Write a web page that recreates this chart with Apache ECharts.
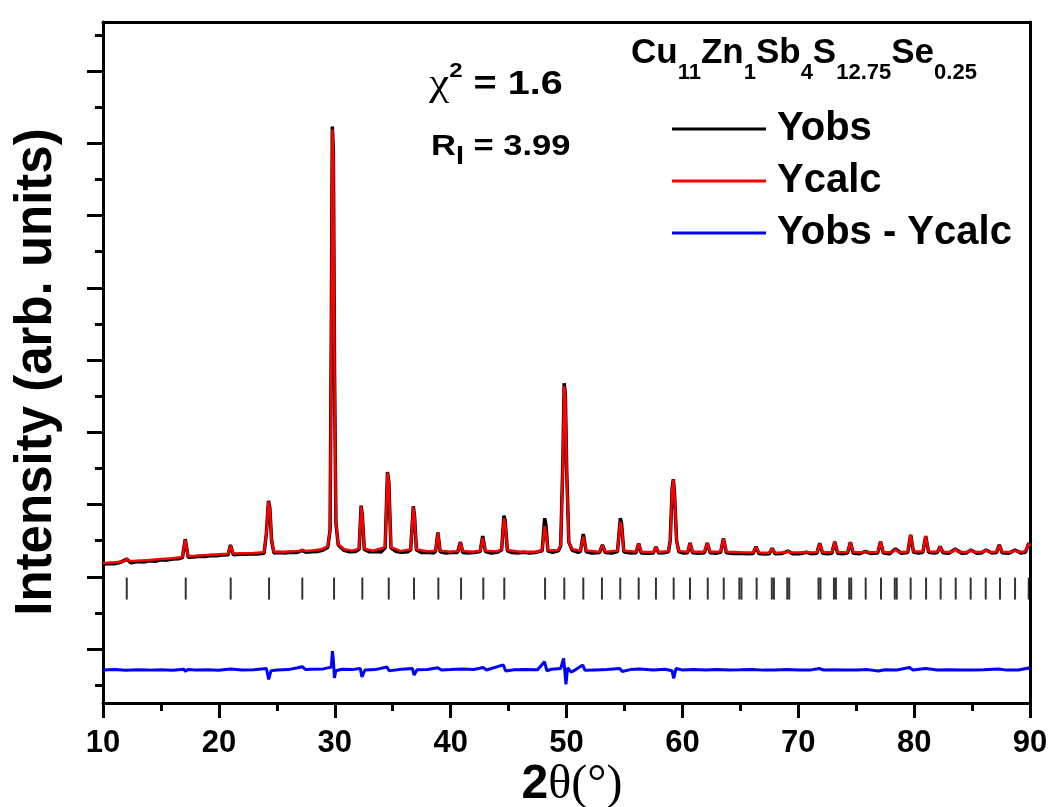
<!DOCTYPE html>
<html>
<head>
<meta charset="utf-8">
<script src="https://cdn.jsdelivr.net/npm/echarts@6/dist/echarts.min.js"></script>
<style>
  html, body { margin: 0; padding: 0; background: #fff; }
  #main { width: 1052px; height: 807px; }
</style>
</head>
<body>
<div id="main"></div>
<script>
// observed pattern [2theta, intensity]
const yobs = [
  [10.0,1175],[10.5,1185],[11.0,1180],[11.5,1200],[12.05,1245],[12.4,1195],[13,1210],[13.5,1205],[14,1220],[14.5,1215],
  [15,1235],[15.5,1230],[16,1245],[16.5,1250],[16.85,1265],[17.1,1520],[17.35,1270],[17.8,1275],[18.3,1285],[18.8,1280],
  [19.3,1295],[19.8,1290],[20.3,1300],[20.8,1305],[21.0,1440],[21.25,1305],[21.8,1312],[22.3,1310],[22.8,1320],[23.3,1315],
  [23.9,1325],[24.1,1600],[24.28,2050],[24.4,1950],[24.55,1500],[24.75,1330],[25.2,1335],[25.7,1330],[26.2,1340],[26.7,1335],
  [27.2,1365],[27.5,1340],[28,1345],[28.5,1350],[29.0,1370],[29.4,1410],[29.6,1650],[29.7,4300],[29.79,7230],[29.88,6900],
  [29.98,3850],[30.1,1750],[30.3,1440],[30.8,1365],[31.3,1345],[31.8,1350],[32.1,1380],[32.28,1985],[32.38,1850],[32.55,1380],
  [33,1345],[33.5,1350],[34.0,1342],[34.35,1400],[34.55,2450],[34.67,2300],[34.85,1400],[35.3,1350],[35.8,1340],[36.3,1345],
  [36.55,1370],[36.78,1975],[36.88,1850],[37.05,1370],[37.5,1335],[38,1340],[38.5,1330],[38.7,1350],[38.9,1612],[39.1,1345],
  [39.6,1330],[40.1,1335],[40.6,1335],[40.85,1480],[41.05,1335],[41.5,1330],[42.0,1335],[42.55,1350],[42.77,1565],[43.0,1350],
  [43.5,1330],[44.0,1338],[44.4,1370],[44.6,1845],[44.7,1780],[44.9,1360],[45.3,1335],[45.8,1330],[46.3,1338],[46.8,1328],
  [47.3,1335],[47.9,1360],[48.12,1810],[48.22,1720],[48.4,1355],[48.8,1340],[49.3,1360],[49.5,1430],[49.68,2550],[49.8,3678],
  [49.9,3520],[50.02,2450],[50.2,1480],[50.5,1365],[51.0,1338],[51.2,1350],[51.45,1592],[51.7,1345],[52.2,1330],[52.85,1335],
  [53.1,1440],[53.35,1335],[53.9,1328],[54.4,1350],[54.65,1810],[54.75,1740],[54.95,1345],[55.5,1330],[56.0,1332],[56.23,1462],
  [56.45,1330],[57.0,1325],[57.5,1330],[57.72,1412],[57.95,1328],[58.4,1332],[58.8,1345],[58.95,1500],[59.12,2220],[59.22,2350],
  [59.32,2160],[59.5,1500],[59.7,1345],[60.1,1330],[60.45,1332],[60.66,1468],[60.88,1332],[61.4,1325],[61.9,1332],[62.15,1468],
  [62.4,1332],[62.9,1325],[63.3,1338],[63.55,1530],[63.8,1332],[64.4,1322],[65,1325],[65.6,1318],[66.1,1322],[66.35,1416],
  [66.6,1322],[67.1,1315],[67.5,1320],[67.75,1395],[68.0,1318],[68.6,1322],[69.1,1356],[69.5,1320],[70.1,1318],[70.7,1340],
  [71.1,1320],[71.6,1325],[71.85,1465],[72.1,1325],[72.5,1318],[72.9,1325],[73.15,1486],[73.4,1325],[73.8,1320],[74.25,1328],
  [74.5,1478],[74.75,1325],[75.3,1320],[75.8,1350],[76.3,1322],[76.85,1328],[77.1,1486],[77.35,1328],[77.9,1320],[78.4,1385],
  [78.9,1325],[79.45,1335],[79.7,1580],[79.95,1338],[80.4,1330],[80.75,1340],[81.0,1565],[81.25,1340],[81.7,1330],[82.0,1335],
  [82.25,1418],[82.5,1332],[83.0,1325],[83.55,1385],[84.1,1325],[84.5,1330],[84.9,1370],[85.4,1325],[85.8,1330],[86.2,1370],
  [86.7,1328],[87.1,1335],[87.35,1440],[87.6,1332],[88.2,1325],[88.7,1370],[89.2,1330],[89.6,1340],[89.9,1465],[90,1430]
];

// calculated pattern
const ycalc = [
  [10.0,1186],[11.0,1200],[11.8,1212],[12.05,1250],[12.3,1215],[13,1222],[14,1232],[15,1245],[16,1258],[16.85,1275],
  [17.1,1510],[17.35,1285],[18,1290],[19,1300],[20,1310],[20.8,1318],[21.0,1430],[21.25,1322],[22,1326],[23,1330],
  [23.9,1340],[24.1,1600],[24.28,2040],[24.4,1940],[24.55,1500],[24.75,1345],[25.5,1348],[26.5,1352],[26.95,1355],[27.2,1372],
  [27.45,1358],[28,1362],[28.8,1380],[29.4,1420],[29.6,1650],[29.7,4200],[29.8,7190],[29.88,6800],[29.98,3800],[30.1,1750],
  [30.3,1450],[30.8,1380],[31.5,1362],[32.1,1390],[32.28,1975],[32.38,1840],[32.55,1390],[33.3,1360],[34.35,1410],[34.55,2440],
  [34.67,2290],[34.85,1410],[35.7,1355],[36.55,1380],[36.78,1965],[36.88,1840],[37.05,1380],[38.0,1350],[38.7,1360],[38.9,1605],
  [39.1,1360],[40.0,1345],[40.65,1355],[40.85,1475],[41.05,1355],[42.0,1345],[42.55,1360],[42.77,1535],[43.0,1360],[44.0,1350],
  [44.4,1380],[44.6,1810],[44.7,1750],[44.9,1370],[46,1345],[47.5,1345],[47.9,1370],[48.12,1700],[48.22,1620],[48.4,1365],
  [49.3,1370],[49.5,1440],[49.68,2500],[49.8,3640],[49.9,3490],[50.02,2400],[50.2,1480],[50.5,1380],[51.2,1360],[51.45,1555],
  [51.7,1360],[52.85,1345],[53.1,1435],[53.35,1345],[54.4,1360],[54.65,1760],[54.75,1700],[54.95,1360],[56.0,1345],[56.23,1458],
  [56.45,1345],[57.5,1342],[57.72,1410],[57.95,1342],[58.8,1355],[58.95,1500],[59.12,2200],[59.22,2345],[59.32,2150],[59.5,1500],
  [59.7,1355],[60.45,1345],[60.66,1465],[60.88,1345],[61.9,1345],[62.15,1465],[62.4,1345],[63.3,1350],[63.55,1525],[63.8,1345],
  [65,1338],[66.1,1335],[66.35,1412],[66.6,1335],[67.5,1333],[67.75,1390],[68.0,1332],[68.85,1335],[69.1,1352],[69.35,1335],
  [70.45,1335],[70.7,1345],[70.95,1335],[71.6,1338],[71.85,1460],[72.1,1340],[72.9,1340],[73.15,1482],[73.4,1340],[74.25,1340],
  [74.5,1475],[74.75,1340],[75.55,1338],[75.8,1352],[76.05,1338],[76.85,1340],[77.1,1482],[77.35,1340],[78.15,1340],[78.4,1380],
  [78.65,1340],[79.45,1345],[79.7,1575],[79.95,1350],[80.75,1350],[81.0,1560],[81.25,1350],[82.0,1345],[82.25,1415],[82.5,1345],
  [83.3,1342],[83.55,1385],[83.8,1342],[84.65,1342],[84.9,1370],[85.15,1342],[85.95,1342],[86.2,1370],[86.45,1342],[87.1,1345],
  [87.35,1435],[87.6,1345],[88.45,1342],[88.7,1368],[88.95,1342],[89.6,1350],[89.9,1460],[90,1420]
];

// difference curve (offset below)
const ydiff = [
  [10,-290],[11,-285],[12,-295],[13,-288],[14,-292],[15,-286],[16,-295],[17,-280],[17.1,-310],[17.3,-285],
  [18,-290],[19,-288],[20,-293],[21,-278],[21.1,-305],[22,-290],[23,-287],[24.1,-270],[24.3,-420],[24.5,-300],
  [25,-290],[26,-285],[26.8,-260],[27.2,-245],[27.5,-285],[28,-280],[29,-275],[29.7,-250],[29.8,-30],[29.88,-150],
  [29.97,-400],[30.1,-300],[30.6,-280],[31.5,-285],[32.2,-270],[32.35,-385],[32.6,-290],[33.5,-285],[34.5,-250],[34.7,-300],
  [35.5,-285],[36.7,-270],[36.85,-360],[37.1,-288],[38,-283],[38.9,-260],[39.2,-290],[40,-285],[41,-275],[42,-283],
  [42.8,-255],[43.1,-290],[44.55,-220],[44.75,-305],[45.5,-288],[46.5,-285],[47.5,-288],[48.1,-175],[48.3,-300],[48.7,-280],
  [49.5,-270],[49.75,-130],[49.85,-300],[49.95,-490],[50.1,-260],[50.4,-320],[50.8,-285],[51.4,-222],[51.6,-295],[52.5,-290],
  [53.5,-285],[54.6,-270],[54.8,-310],[55.5,-285],[56.3,-275],[57.5,-290],[58.5,-280],[59.1,-300],[59.25,-405],[59.45,-270],
  [60,-290],[61,-285],[62,-290],[63,-285],[64,-290],[65,-288],[66,-285],[67,-292],[68,-290],[69,-285],
  [70,-290],[71,-292],[71.8,-270],[72.2,-290],[73,-288],[74,-292],[75,-290],[76,-285],[76.9,-305],[77.5,-288],
  [78.5,-290],[79.6,-255],[79.9,-290],[81,-270],[82,-290],[83,-288],[84,-292],[85,-290],[86,-288],[87.3,-275],
  [88,-292],[89,-290],[89.9,-262],[90,-280]
];

// Bragg reflection positions
const braggPos = [
  12.05, 17.14, 21.02, 24.33, 27.2, 29.94, 32.38, 34.66, 36.84, 38.94, 40.9, 42.82, 44.63, 48.15, 49.81,
  51.45, 53.06, 54.64, 56.23, 57.72, 59.25, 60.66, 62.19, 63.57, 64.92, 65.1, 66.41, 67.72, 67.9, 69.05,
  69.22, 71.75, 71.92, 73.08, 73.25, 74.4, 74.57, 75.82, 77.14, 78.33, 78.5, 79.7, 81.03, 82.29, 83.59,
  84.88, 86.18, 87.41, 88.71, 89.89
];

const xTicks = [10, 20, 30, 40, 50, 60, 70, 80, 90];
const yMajor = [0, 1000, 2000, 3000, 4000, 5000, 6000, 7000, 8000];
const yMinor = [-500, 500, 1500, 2500, 3500, 4500, 5500, 6500, 7500, 8500];

const BRAGG_Y = 837;
const Y_MIN = -747, Y_MAX = 8678;
const FONT = 'Liberation Sans, Arial, sans-serif';
const SERIF = 'Liberation Serif, Times New Roman, serif';

const myChart = echarts.init(document.getElementById('main'));

const frameLine = { show: true, onZero: false, lineStyle: { color: '#000', width: 3 } };

const option = {
  animation: false,
  backgroundColor: '#fff',
  grid: { left: 103, right: 22, top: 22, bottom: 104, outerBoundsMode: 'none' },
  legend: {
    data: ['Yobs', 'Ycalc', 'Yobs - Ycalc'],
    orient: 'vertical',
    left: 672,
    top: 109,
    padding: 0,
    icon: 'rect',
    itemWidth: 94,
    itemHeight: 3,
    itemGap: 12,
    textStyle: {
      fontFamily: FONT, fontWeight: 'bold', fontSize: 40, color: '#000',
      lineHeight: 40, padding: [0, 0, 0, 6]
    }
  },
  xAxis: [
    {
      type: 'value', min: 10, max: 90, interval: 10, position: 'bottom',
      axisLine: frameLine,
      axisTick: { show: true, inside: false, length: 15, lineStyle: { color: '#000', width: 3 } },
      minorTick: { show: true, splitNumber: 2, length: 8, lineStyle: { color: '#000', width: 3 } },
      axisLabel: {
        color: '#000', fontFamily: FONT, fontWeight: 'bold', fontSize: 31, margin: 25,
        customValues: xTicks
      },
      splitLine: { show: false }
    },
    {
      type: 'value', min: 10, max: 90, position: 'top',
      axisLine: frameLine, axisTick: { show: false }, axisLabel: { show: false }, splitLine: { show: false }
    }
  ],
  yAxis: [
    {
      type: 'value', min: Y_MIN, max: Y_MAX, position: 'left',
      axisLine: frameLine,
      axisTick: { show: true, inside: false, length: 16, customValues: yMajor, lineStyle: { color: '#000', width: 3 } },
      axisLabel: { show: false },
      splitLine: { show: false }
    },
    {
      type: 'value', min: Y_MIN, max: Y_MAX, position: 'left', offset: 0,
      axisLine: { show: false, onZero: false },
      axisTick: { show: true, inside: false, length: 8, customValues: yMinor, lineStyle: { color: '#000', width: 3 } },
      axisLabel: { show: false },
      splitLine: { show: false }
    },
    {
      type: 'value', min: Y_MIN, max: Y_MAX, position: 'right',
      axisLine: frameLine, axisTick: { show: false }, axisLabel: { show: false }, splitLine: { show: false }
    }
  ],
  series: [
    {
      name: 'Yobs', type: 'line', data: yobs, showSymbol: false, symbol: 'none',
      color: '#000', lineStyle: { color: '#000', width: 3.5 }, z: 2
    },
    {
      name: 'Ycalc', type: 'line', data: ycalc, showSymbol: false, symbol: 'none',
      color: '#ff0000', lineStyle: { color: '#ff0000', width: 2.5 }, z: 3
    },
    {
      name: 'Yobs - Ycalc', type: 'line', data: ydiff, showSymbol: false, symbol: 'none',
      color: '#0000ff', lineStyle: { color: '#0000ff', width: 3 }, z: 3
    },
    {
      name: 'Bragg', type: 'scatter',
      data: braggPos.map(p => [p, BRAGG_Y]),
      symbol: 'rect', symbolSize: [2, 22],
      itemStyle: { color: '#000' }, z: 4
    }
  ],
  graphic: [
    {
      type: 'text', x: 37, y: 372, rotation: Math.PI / 2,
      style: {
        text: 'Intensity (arb. units)', fontFamily: FONT, fontWeight: 'bold', fontSize: 51,
        fill: '#000', align: 'center', verticalAlign: 'middle'
      }
    },
    {
      type: 'text', x: 572, y: 785,
      style: {
        text: '{b|2}{t|θ(°)}', align: 'center', verticalAlign: 'middle',
        rich: {
          b: { fontFamily: FONT, fontWeight: 'bold', fontSize: 48, fill: '#000' },
          t: { fontFamily: SERIF, fontSize: 48, fill: '#000' }
        }
      }
    },
    {
      type: 'text', x: 631, y: 22,
      style: {
        text: '{m|Cu}{s|11}{m|Zn}{s|1}{m|Sb}{s|4}{m|S}{s|12.75}{m|Se}{s|0.25}',
        rich: {
          m: { fontFamily: FONT, fontWeight: 'bold', fontSize: 35, fill: '#000', lineHeight: 62 },
          s: { fontFamily: FONT, fontWeight: 'bold', fontSize: 22, fill: '#000', verticalAlign: 'bottom' }
        }
      }
    },
    {
      type: 'text', x: 429, y: 61, scaleX: 1.2,
      style: {
        text: '{c|χ}{p|2}{m| = 1.6}',
        rich: {
          c: { fontFamily: SERIF, fontSize: 38, fill: '#000', lineHeight: 48 },
          p: { fontFamily: FONT, fontWeight: 'bold', fontSize: 20, fill: '#000', verticalAlign: 'top' },
          m: { fontFamily: FONT, fontWeight: 'bold', fontSize: 33, fill: '#000', lineHeight: 48 }
        }
      }
    },
    {
      type: 'text', x: 431, y: 123, scaleX: 1.15,
      style: {
        text: '{m|R}{s|I}{m| = 3.99}',
        rich: {
          m: { fontFamily: FONT, fontWeight: 'bold', fontSize: 30, fill: '#000', lineHeight: 47 },
          s: { fontFamily: FONT, fontWeight: 'bold', fontSize: 25, fill: '#000', verticalAlign: 'bottom' }
        }
      }
    }
  ]
};

myChart.setOption(option);
</script>
</body>
</html>
